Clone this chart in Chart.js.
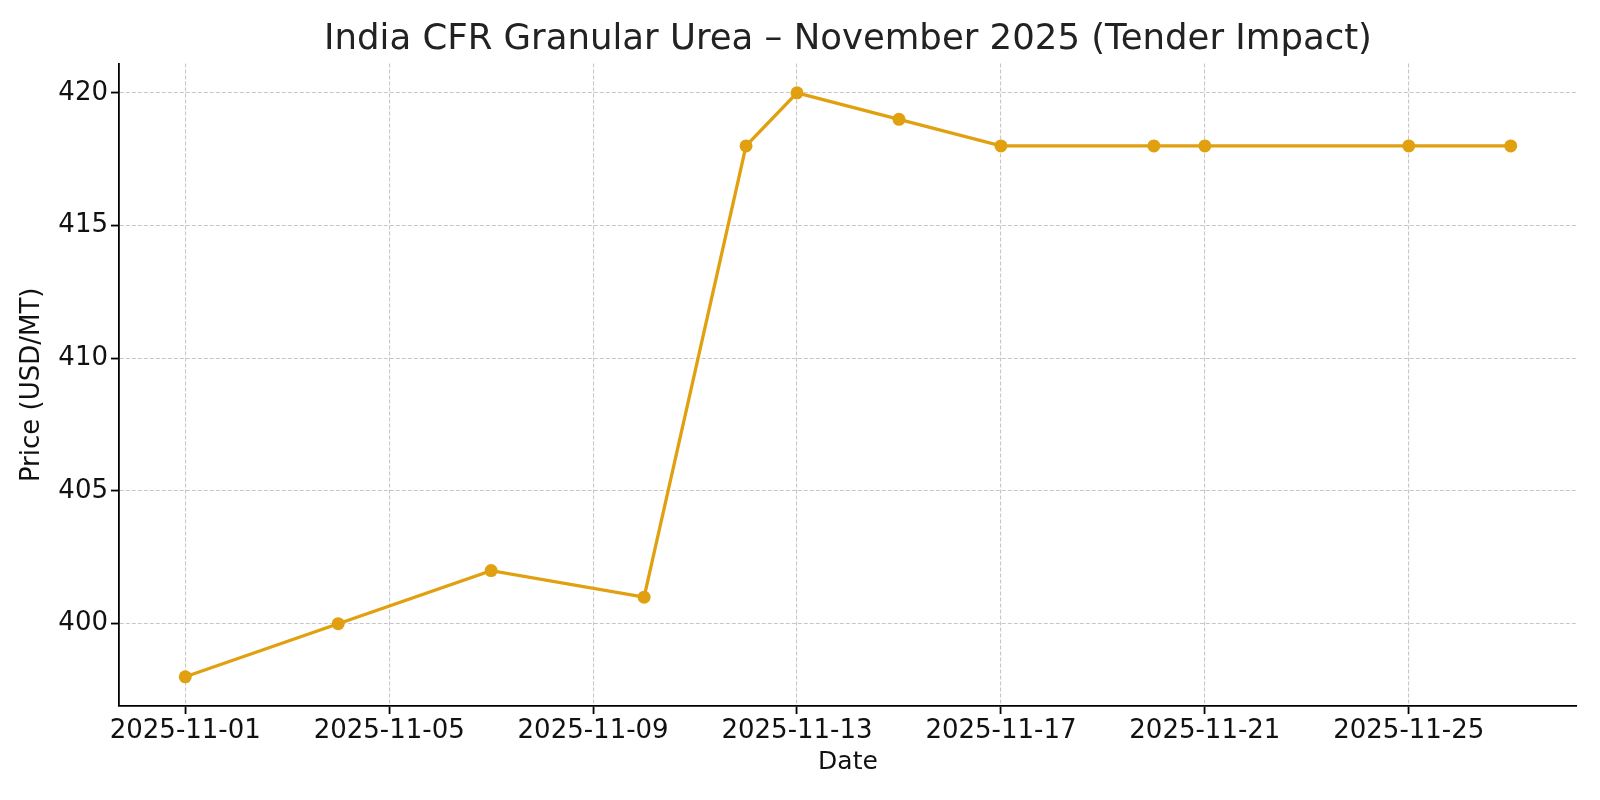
<!DOCTYPE html>
<html>
<head>
<meta charset="utf-8">
<title>India CFR Granular Urea</title>
<script src="https://cdn.jsdelivr.net/npm/chart.js@4"></script>
<style>
  html, body { margin: 0; padding: 0; background: #fff; }
  canvas { display: block; }
</style>
</head>
<body>
<canvas id="chart" width="1600" height="800"></canvas>
<script>
// values
const dates = ["2025-11-01", "2025-11-04", "2025-11-07", "2025-11-10", "2025-11-12", "2025-11-13",
               "2025-11-15", "2025-11-17", "2025-11-20", "2025-11-21", "2025-11-25", "2025-11-27"];
const prices = [398, 400, 402, 401, 418, 420, 419, 418, 418, 418, 418, 418];
const yTicks = [400, 405, 410, 415, 420];
const xTickDates = ["2025-11-01", "2025-11-05", "2025-11-09", "2025-11-13", "2025-11-17", "2025-11-21", "2025-11-25"];

const DAY = 86400000;
const t0 = Date.parse(dates[0] + "T00:00:00Z");
const dayOf = iso => (Date.parse(iso + "T00:00:00Z") - t0) / DAY;
const labelOf = d => new Date(t0 + d * DAY).toISOString().slice(0, 10);

// matplotlib-like 5% margins
const xs = dates.map(dayOf);
const xSpan = Math.max(...xs) - Math.min(...xs);
const ySpan = Math.max(...prices) - Math.min(...prices);

const font = "'DejaVu Sans', sans-serif";
const lineColor = "#E0A010";

const gridOpts = {
  color: "rgba(185,185,185,0.8)",
  lineWidth: 1.1,
  drawTicks: true,
  tickLength: 8,
  tickColor: "#000",
  tickWidth: 1.8,
  tickBorderDash: [],
};
const borderOpts = { display: true, color: "#000", width: 1.8, dash: [4, 2] };

new Chart(document.getElementById("chart"), {
  type: "line",
  data: {
    datasets: [{
      data: dates.map((d, i) => ({ x: dayOf(d), y: prices[i] })),
      borderColor: lineColor,
      backgroundColor: lineColor,
      borderWidth: 3.3,
      pointRadius: 6.5,
      pointBorderWidth: 0,
      pointHoverRadius: 6.5,
      tension: 0,
    }],
  },
  options: {
    responsive: false,
    animation: false,
    devicePixelRatio: 1,
    layout: { padding: { left: 0, right: 23, top: 0, bottom: 0 } },
    plugins: {
      legend: { display: false },
      tooltip: { enabled: false },
      title: {
        display: true,
        text: "India CFR Granular Urea – November 2025 (Tender Impact)",
        color: "#222",
        font: { family: font, size: 35.5, weight: "normal" },
        padding: { top: 18, bottom: 3 },
        fullSize: false,
      },
    },
    scales: {
      x: {
        type: "linear",
        min: Math.min(...xs) - xSpan * 0.05,
        max: Math.max(...xs) + xSpan * 0.05,
        afterBuildTicks: s => { s.ticks = xTickDates.map(d => ({ value: dayOf(d) })); },
        afterFit: s => { s.height = 94; },
        ticks: {
          color: "#111",
          font: { family: font, size: 26 },
          padding: 2,
          maxRotation: 0,
          autoSkip: false,
          callback: v => labelOf(v),
        },
        grid: gridOpts,
        border: borderOpts,
        title: {
          display: true,
          text: "Date",
          color: "#111",
          font: { family: font, size: 25 },
          padding: { top: 0, bottom: 23 },
        },
      },
      y: {
        min: Math.min(...prices) - ySpan * 0.05,
        max: Math.max(...prices) + ySpan * 0.05,
        afterBuildTicks: s => { s.ticks = yTicks.map(v => ({ value: v })); },
        afterFit: s => { s.width = 119; },
        ticks: {
          color: "#111",
          font: { family: font, size: 26 },
          padding: 3,
        },
        grid: gridOpts,
        border: borderOpts,
        title: {
          display: true,
          text: "Price (USD/MT)",
          color: "#111",
          font: { family: font, size: 26 },
          padding: { top: 17, bottom: 0 },
        },
      },
    },
  },
});
</script>
</body>
</html>
